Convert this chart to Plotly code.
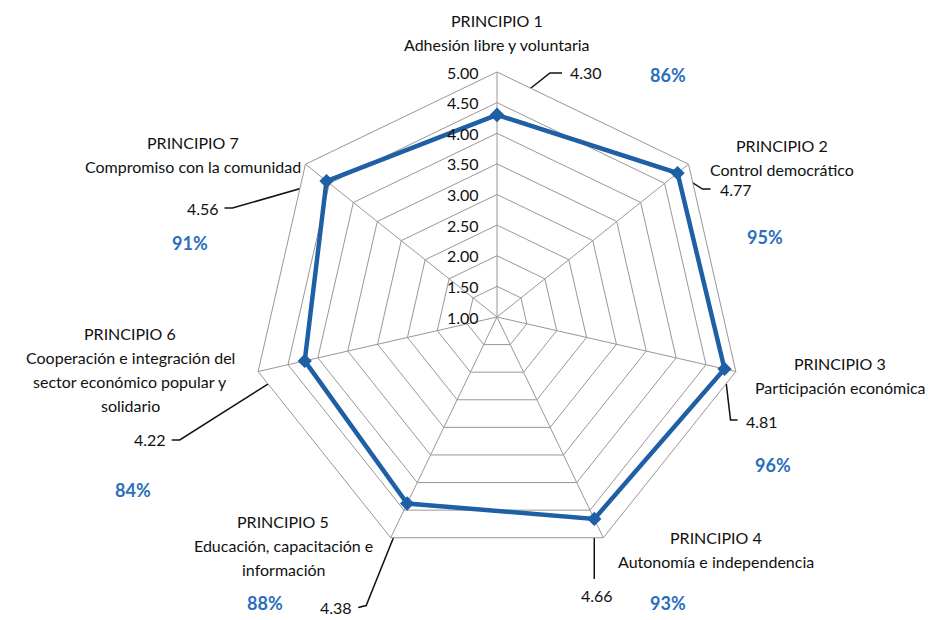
import plotly.graph_objects as go
import numpy as np

# Scores per cooperative principle (scale 1-5)
principles = ["PRINCIPIO 1", "PRINCIPIO 2", "PRINCIPIO 3", "PRINCIPIO 4",
              "PRINCIPIO 5", "PRINCIPIO 6", "PRINCIPIO 7"]
descriptions = [["Adhesión libre y voluntaria"],
                ["Control democrático"],
                ["Participación económica"],
                ["Autonomía e independencia"],
                ["Educación, capacitación e", "información"],
                ["Cooperación e integración del", "sector económico popular y",
                 "solidario"],
                ["Compromiso con la comunidad"]]
scores = [4.30, 4.77, 4.81, 4.66, 4.38, 4.22, 4.56]
max_score = 5.0
radial_ticks = [1.0, 1.5, 2.0, 2.5, 3.0, 3.5, 4.0, 4.5, 5.0]

W, H = 941, 620
CX, CY, R = 497, 317, 245          # chart centre and outer radius in px
R_MIN, R_MAX = 1.0, 5.0
FONT = "Lato, 'Open Sans', sans-serif"
BLUE = "#1f5fa6"
PCT_BLUE = "#2a6fbd"
TXT = "#111111"
LINE_GAP = 24

n = len(principles)
angles = [i * 360.0 / n for i in range(n)]

fig = go.Figure()

# Radar series
fig.add_trace(go.Scatterpolar(
    r=scores + [scores[0]], theta=principles + [principles[0]],
    mode="lines+markers",
    line=dict(color=BLUE, width=4.5),
    marker=dict(symbol="diamond", size=11, color=BLUE),
    hoverinfo="skip", showlegend=False))


def to_px(value, ang):
    rp = (value - R_MIN) / (R_MAX - R_MIN) * R
    a = np.radians(ang)
    return CX + rp * np.sin(a), CY - rp * np.cos(a)


# Leader lines: pixel offsets (elbow, end) from each point, label anchor
leaders = [
    dict(path=[(53, -42), (65, -42)], lab=(71, -42), anchor="left"),
    dict(path=[(25, 16), (33, 16)], lab=(40, 16), anchor="left"),
    dict(path=[(6, 51), (13, 51)], lab=(19, 53), anchor="left"),
    dict(path=[(0, 60)], lab=(3, 77), anchor="center"),
    dict(path=[(-41, 102), (-49, 104)], lab=(-53, 104), anchor="right"),
    dict(path=[(-125, 79), (-133, 79)], lab=(-137, 79), anchor="right"),
    dict(path=[(-94, 27), (-102, 27)], lab=(-106, 27), anchor="right"),
]

annotations = []
for v, ang, ld in zip(scores, angles, leaders):
    px, py = to_px(v, ang)
    xs = [px] + [px + dx for dx, dy in ld["path"]]
    ys = [py] + [py + dy for dx, dy in ld["path"]]
    fig.add_trace(go.Scatter(x=xs, y=ys, mode="lines",
                             line=dict(color=TXT, width=1.5),
                             hoverinfo="skip", showlegend=False))
    annotations.append(dict(x=px + ld["lab"][0], y=py + ld["lab"][1],
                            xref="x", yref="y", text=f"{v:.2f}",
                            showarrow=False, xanchor=ld["anchor"],
                            yanchor="middle",
                            font=dict(family=FONT, size=16, color=TXT)))

# Category titles (one annotation per text line) and % of the maximum score
cat_pos = [(497, 20), (782, 145), (840, 363), (716, 537),
           (283, 521), (130, 333), (193, 142)]
pct_pos = [(668, 75), (765, 237), (773, 465), (668, 603),
           (265, 603), (133, 490), (190, 243)]
for name, desc, v, (x, y), (qx, qy) in zip(principles, descriptions, scores,
                                           cat_pos, pct_pos):
    for k, line in enumerate([name] + desc):
        annotations.append(dict(x=x, y=y + k * LINE_GAP, xref="x", yref="y",
                                yanchor="middle", xanchor="center",
                                text=line, showarrow=False,
                                font=dict(family=FONT, size=16, color=TXT)))
    annotations.append(dict(x=qx, y=qy, xref="x", yref="y",
                            text=f"<b>{round(v / max_score * 100):.0f}%</b>",
                            showarrow=False, xanchor="center",
                            yanchor="middle",
                            font=dict(family=FONT, size=18, color=PCT_BLUE)))

# Radial tick labels along the vertical spoke
for t in radial_ticks:
    tx, ty = to_px(t, 0)
    annotations.append(dict(x=tx - 16, y=ty, xref="x", yref="y",
                            text=f"{t:.2f}", showarrow=False,
                            xanchor="right", yanchor="middle",
                            font=dict(family=FONT, size=16, color=TXT)))

grid_col = "#9c9696"
fig.update_layout(
    width=W, height=H,
    margin=dict(l=0, r=0, t=0, b=0),
    paper_bgcolor="white", plot_bgcolor="rgba(0,0,0,0)",
    showlegend=False,
    polar=dict(
        domain=dict(x=[(CX - R) / W, (CX + R) / W],
                    y=[(H - CY - R) / H, (H - CY + R) / H]),
        bgcolor="white",
        gridshape="linear",
        radialaxis=dict(range=[R_MIN, R_MAX], tickvals=radial_ticks,
                        showticklabels=False, ticks="",
                        showline=False, gridcolor=grid_col, gridwidth=1,
                        angle=90),
        angularaxis=dict(rotation=90, direction="clockwise",
                         showticklabels=False, ticks="",
                         showline=True, linecolor=grid_col, linewidth=1,
                         gridcolor=grid_col, gridwidth=1),
    ),
    xaxis=dict(range=[0, W], domain=[0, 1], visible=False, fixedrange=True),
    yaxis=dict(range=[H, 0], domain=[0, 1], visible=False, fixedrange=True),
    annotations=annotations,
)

fig.write_html("out.html")
